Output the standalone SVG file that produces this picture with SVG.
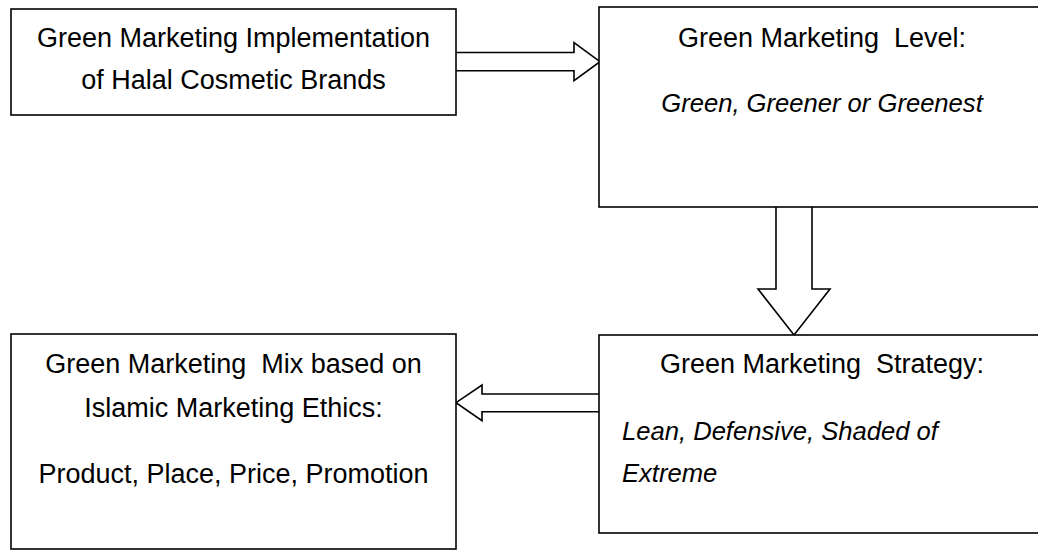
<svg xmlns="http://www.w3.org/2000/svg" width="1038" height="550" viewBox="0 0 1038 550">
<style>
.box{fill:#fff;stroke:#000;stroke-width:1.6}
.arr{fill:#fff;stroke:#000;stroke-width:1.6;stroke-linejoin:miter}
text{font-family:"Liberation Sans",Arial,sans-serif;font-size:27px;fill:#000}
.c{text-anchor:middle}
.i{font-style:italic;font-size:25.6px}
</style>
<rect width="1038" height="550" fill="#fff"/>
<g id="connectors">
<path class="arr" d="M456,52.5 H574 V42.7 L600,61.7 L574,80.7 V70.7 H456"/>
<path class="arr" d="M776,207 V289 H758 L794,335 L830,289 H812 V207"/>
<path class="arr" d="M599,394 H482 V385 L456,402.7 L482,420.7 V411.7 H599"/>
</g>
<g id="node-implementation">
<rect class="box" x="11" y="9" width="445" height="106"/>
<text class="c" x="233.5" y="47">Green Marketing Implementation</text>
<text class="c" x="233.5" y="89">of Halal Cosmetic Brands</text>
</g>
<g id="node-level">
<rect class="box" x="599" y="7" width="447" height="200"/>
<text class="c" x="822" y="47" xml:space="preserve">Green Marketing  Level:</text>
<text class="c i" x="822" y="112">Green, Greener or Greenest</text>
</g>
<g id="node-strategy">
<rect class="box" x="599" y="335" width="447" height="198"/>
<text class="c" x="822" y="373" xml:space="preserve">Green Marketing  Strategy:</text>
<text class="i" x="622" y="440">Lean, Defensive, Shaded of</text>
<text class="i" x="622" y="482">Extreme</text>
</g>
<g id="node-mix">
<rect class="box" x="11" y="334" width="445" height="215"/>
<text class="c" x="233.5" y="373" xml:space="preserve">Green Marketing  Mix based on</text>
<text class="c" x="233.5" y="417">Islamic Marketing Ethics:</text>
<text class="c" x="233.5" y="483">Product, Place, Price, Promotion</text>
</g>
</svg>
